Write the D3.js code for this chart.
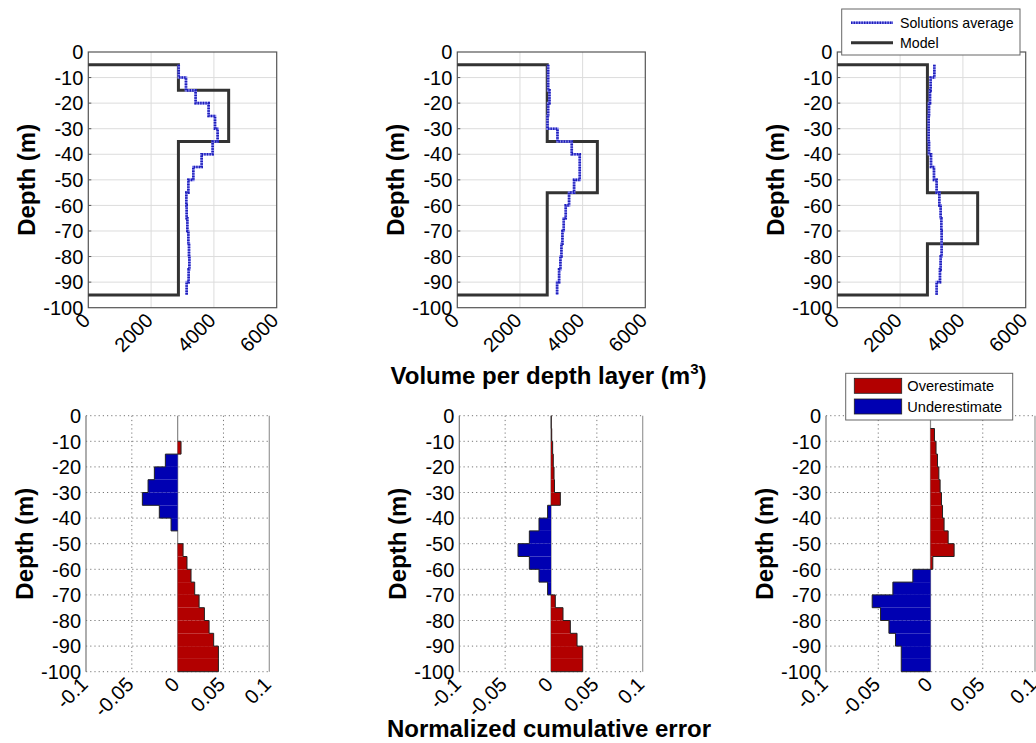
<!DOCTYPE html>
<html>
<head>
<meta charset="utf-8">
<script src="https://cdn.jsdelivr.net/npm/d3@7"></script>
<style>
  html, body { margin: 0; padding: 0; background: #fff; }
  svg { display: block; font-family: "Liberation Sans", Arial, sans-serif; }
</style>
</head>
<body>
<svg id="chart" width="1036" height="743"></svg>
<script>
// ---------------- DATA ----------------
// Top row: volume per 5 m depth layer, layers starting at these depths (m below surface)
const layerTops = [5, 10, 15, 20, 25, 30, 35, 40, 45, 50, 55, 60, 65, 70, 75, 80, 85, 90];
const model1 = [2870, 2870, 4470, 4470, 4470, 4470, 2870, 2870, 2870, 2870, 2870, 2870, 2870, 2870, 2870, 2870, 2870, 2870];
const model2 = [2870, 2870, 2870, 2870, 2870, 2870, 4470, 4470, 4470, 4470, 2870, 2870, 2870, 2870, 2870, 2870, 2870, 2870];
const model3 = [2870, 2870, 2870, 2870, 2870, 2870, 2870, 2870, 2870, 2870, 4470, 4470, 4470, 4470, 2870, 2870, 2870, 2870];
const avg1 = [2880, 3111, 3418, 3832, 4035, 4119, 3960, 3610, 3344, 3186, 3122, 3133, 3154, 3186, 3207, 3218, 3196, 3133];
const avg2 = [2899, 2899, 2941, 2899, 2878, 3197, 3653, 3908, 3908, 3727, 3567, 3461, 3397, 3355, 3323, 3291, 3249, 3185];
const avg3 = [3090, 2973, 2952, 2920, 2910, 2910, 2920, 2984, 3079, 3164, 3249, 3292, 3313, 3323, 3323, 3292, 3270, 3164];

// Bottom row: normalized cumulative error per 5 m layer, layers 0-5 ... 95-100
const errTops = [0, 5, 10, 15, 20, 25, 30, 35, 40, 45, 50, 55, 60, 65, 70, 75, 80, 85, 90, 95];
const err1 = [0, 0, 0.0037, -0.0134, -0.0254, -0.0323, -0.0385, -0.0200, -0.0072, 0, 0.0059, 0.0102, 0.0146, 0.0186, 0.0234, 0.0292, 0.0343, 0.0393, 0.0445, 0.0445];
const err2 = [0.0003, 0.0008, 0.0018, 0.0025, 0.0033, 0.0038, 0.0102, -0.0037, -0.0131, -0.0236, -0.0360, -0.0236, -0.0131, -0.0037, 0.0047, 0.0131, 0.0211, 0.0284, 0.0346, 0.0346];
const err3 = [0, 0.0038, 0.0053, 0.0067, 0.0080, 0.0092, 0.0105, 0.0115, 0.0130, 0.0169, 0.0226, 0.0022, -0.0169, -0.0360, -0.0558, -0.0478, -0.0398, -0.0335, -0.0280, -0.0280];

const depthTicks = [0, -10, -20, -30, -40, -50, -60, -70, -80, -90, -100];
const volTicks = [0, 2000, 4000, 6000];
const errTicks = [-0.1, -0.05, 0, 0.05, 0.1];
const volTitle = "Volume per depth layer (m";
const errTitle = "Normalized cumulative error";
const depthTitle = "Depth (m)";
const topLegend = ["Solutions average", "Model"];
const botLegend = ["Overestimate", "Underestimate"];

// ---------------- LAYOUT ----------------
const topBoxes = [
  {x0: 88.3, x1: 276.7}, {x0: 457.3, x1: 645.3}, {x0: 837.3, x1: 1025.7}
];
const botBoxes = [
  {x0: 86, x1: 269.3}, {x0: 459.3, x1: 642.7}, {x0: 826, x1: 1035}
];
const topY = [52, 307.7];
const botY = [415.7, 671.7];
const LAYER = 5;
const fontTick = 20;
const RED = "#b20000", BLUE = "#0000b2";

const svg = d3.select("#chart");
const models = [model1, model2, model3];
const avgs = [avg1, avg2, avg3];
const errs = [err1, err2, err3];

function yAxisLabels(g, y, x0) {
  g.selectAll("text.ytl").data(depthTicks).join("text")
    .attr("class", "ytl")
    .attr("x", x0 - 5).attr("y", d => y(d))
    .attr("dy", "0.36em")
    .attr("text-anchor", "end")
    .attr("font-size", fontTick)
    .text(d => String(d));
}
function xAxisLabels(g, x, ticks, yBase, fmt) {
  g.selectAll("text.xtl").data(ticks).join("text")
    .attr("class", "xtl")
    .attr("text-anchor", "end")
    .attr("font-size", fontTick)
    .attr("transform", d => `translate(${x(d) + 3},${yBase + 14}) rotate(-45)`)
    .text(fmt);
}
function depthLabel(g, xb, yc) {
  g.append("text")
    .attr("transform", `translate(${xb},${yc}) rotate(-90)`)
    .attr("text-anchor", "middle")
    .attr("font-size", 24).attr("font-weight", "bold")
    .text(depthTitle);
}

// ---------------- TOP ROW ----------------
topBoxes.forEach((b, k) => {
  const g = svg.append("g");
  const x = d3.scaleLinear().domain([0, 6000]).range([b.x0, b.x1]);
  const y = d3.scaleLinear().domain([0, -100]).range(topY);
  // grid
  g.selectAll("line.gx").data(volTicks.slice(1, -1)).join("line")
    .attr("x1", d => x(d)).attr("x2", d => x(d)).attr("y1", topY[0]).attr("y2", topY[1])
    .attr("stroke", "#dcdcdc").attr("stroke-width", 1);
  g.selectAll("line.gy").data(depthTicks.slice(1, -1)).join("line")
    .attr("x1", b.x0).attr("x2", b.x1).attr("y1", d => y(d)).attr("y2", d => y(d))
    .attr("stroke", "#dcdcdc").attr("stroke-width", 1);
  // box
  g.append("rect").attr("x", b.x0).attr("y", topY[0])
    .attr("width", b.x1 - b.x0).attr("height", topY[1] - topY[0])
    .attr("fill", "none").attr("stroke", "#555").attr("stroke-width", 1.2);
  // small inward ticks
  g.selectAll("line.tk").data(depthTicks.slice(1, -1)).join("line")
    .attr("x1", b.x0).attr("x2", b.x0 + 3).attr("y1", d => y(d)).attr("y2", d => y(d))
    .attr("stroke", "#555");

  const line = d3.line().x(d => x(d[0])).y(d => y(-d[1]));
  // model step profile
  const mv = models[k];
  const mPts = [[0, layerTops[0]]];
  mv.forEach((v, i) => { mPts.push([v, layerTops[i]]); mPts.push([v, layerTops[i] + LAYER]); });
  mPts.push([0, layerTops[layerTops.length - 1] + LAYER]);
  g.append("path").attr("d", line(mPts)).attr("fill", "none")
    .attr("stroke", "#333").attr("stroke-width", 3);
  // solutions average
  const av = avgs[k];
  const aPts = [];
  av.forEach((v, i) => { aPts.push([v, layerTops[i]]); aPts.push([v, layerTops[i] + LAYER]); });
  g.append("path").attr("d", line(aPts)).attr("fill", "none")
    .attr("stroke", "#8a8af0").attr("stroke-width", 2.6);
  g.append("path").attr("d", line(aPts)).attr("fill", "none")
    .attr("stroke", "#1f1fb8").attr("stroke-width", 2.6).attr("stroke-dasharray", "1.4,1.2");

  yAxisLabels(g, y, b.x0);
  xAxisLabels(g, x, volTicks, topY[1], d => String(d));
  depthLabel(g, b.x0 - 53, (topY[0] + topY[1]) / 2);
});

// top legend
{
  const g = svg.append("g");
  g.append("rect").attr("x", 841.7).attr("y", 9).attr("width", 178.3).attr("height", 46)
    .attr("fill", "#fff").attr("stroke", "#666").attr("stroke-width", 1);
  g.append("line").attr("x1", 851).attr("x2", 893).attr("y1", 22.7).attr("y2", 22.7)
    .attr("stroke", "#8a8af0").attr("stroke-width", 2.6);
  g.append("line").attr("x1", 851).attr("x2", 893).attr("y1", 22.7).attr("y2", 22.7)
    .attr("stroke", "#1f1fb8").attr("stroke-width", 2.6).attr("stroke-dasharray", "1.4,1.2");
  g.append("line").attr("x1", 851).attr("x2", 893).attr("y1", 42.7).attr("y2", 42.7)
    .attr("stroke", "#333").attr("stroke-width", 3);
  g.selectAll("text").data(topLegend).join("text")
    .attr("x", 900).attr("y", (d, i) => 22.7 + i * 20).attr("dy", "0.35em")
    .attr("font-size", 14.2).text(d => d);
}

// top x title
{
  const t = svg.append("text").attr("x", 548.5).attr("y", 384)
    .attr("text-anchor", "middle").attr("font-size", 24).attr("font-weight", "bold");
  t.append("tspan").text(volTitle);
  t.append("tspan").attr("font-size", 15).attr("dy", -10).text("3");
  t.append("tspan").attr("dy", 10).text(")");
}

// ---------------- BOTTOM ROW ----------------
botBoxes.forEach((b, k) => {
  const g = svg.append("g");
  const x = d3.scaleLinear().domain([-0.1, 0.1]).range([b.x0, b.x1]);
  const y = d3.scaleLinear().domain([0, -100]).range(botY);
  // box (solid sides)
  g.append("line").attr("x1", b.x0).attr("x2", b.x0).attr("y1", botY[0]).attr("y2", botY[1])
    .attr("stroke", "#777").attr("stroke-width", 1.2);
  g.append("line").attr("x1", b.x1).attr("x2", b.x1).attr("y1", botY[0]).attr("y2", botY[1])
    .attr("stroke", "#999").attr("stroke-width", 1.2);
  // dotted grid (including top & bottom edges)
  g.selectAll("line.gy").data(depthTicks).join("line")
    .attr("x1", b.x0).attr("x2", b.x1).attr("y1", d => y(d)).attr("y2", d => y(d))
    .attr("stroke", "#777").attr("stroke-width", 1).attr("stroke-dasharray", "1.2,3");
  g.selectAll("line.gx").data([-0.05, 0.05]).join("line")
    .attr("x1", d => x(d)).attr("x2", d => x(d)).attr("y1", botY[0]).attr("y2", botY[1])
    .attr("stroke", "#777").attr("stroke-width", 1).attr("stroke-dasharray", "1.2,3");
  // zero line
  g.append("line").attr("x1", x(0)).attr("x2", x(0)).attr("y1", botY[0]).attr("y2", botY[1])
    .attr("stroke", "#888").attr("stroke-width", 1.2);
  // bars (fill only)
  const ev = errs[k];
  const bars = ev.map((v, i) => ({v, top: errTops[i]}));
  g.selectAll("rect.bar").data(bars.filter(d => d.v !== 0))
    .join("rect").attr("class", "bar")
    .attr("x", d => Math.min(x(0), x(d.v)))
    .attr("width", d => Math.abs(x(d.v) - x(0)))
    .attr("y", d => y(-d.top))
    .attr("height", d => y(-(d.top + LAYER)) - y(-d.top))
    .attr("fill", d => d.v > 0 ? RED : BLUE);
  // stair outline per contiguous same-sign group
  const groups = [];
  let cur = null;
  bars.forEach(d => {
    const s = Math.sign(d.v);
    if (s === 0) { cur = null; return; }
    if (!cur || cur.s !== s) { cur = {s, items: []}; groups.push(cur); }
    cur.items.push(d);
  });
  const line = d3.line().x(d => x(d[0])).y(d => y(-d[1]));
  groups.forEach(gr => {
    const pts = [[0, gr.items[0].top]];
    gr.items.forEach(d => { pts.push([d.v, d.top]); pts.push([d.v, d.top + LAYER]); });
    pts.push([0, gr.items[gr.items.length - 1].top + LAYER]);
    g.append("path").attr("d", line(pts)).attr("fill", "none")
      .attr("stroke", "#222").attr("stroke-width", 1);
  });

  yAxisLabels(g, y, b.x0);
  xAxisLabels(g, x, errTicks, botY[1], d => String(d));
  depthLabel(g, b.x0 - 53, (botY[0] + botY[1]) / 2);
});

// bottom legend
{
  const g = svg.append("g");
  g.append("rect").attr("x", 845.7).attr("y", 373.3).attr("width", 167).attr("height", 46.7)
    .attr("fill", "#fff").attr("stroke", "#666").attr("stroke-width", 1);
  const cols = [RED, BLUE];
  g.selectAll("rect.sw").data(botLegend).join("rect").attr("class", "sw")
    .attr("x", 854.3).attr("y", (d, i) => 378.3 + i * 20.7)
    .attr("width", 47.4).attr("height", 15)
    .attr("fill", (d, i) => cols[i]).attr("stroke", "#222").attr("stroke-width", 0.8);
  g.selectAll("text").data(botLegend).join("text")
    .attr("x", 907.3).attr("y", (d, i) => 385.8 + i * 20.7).attr("dy", "0.35em")
    .attr("font-size", 14.6).text(d => d);
}

// bottom x title
svg.append("text").attr("x", 549).attr("y", 737.3)
  .attr("text-anchor", "middle").attr("font-size", 24).attr("font-weight", "bold")
  .text(errTitle);
</script>
</body>
</html>
